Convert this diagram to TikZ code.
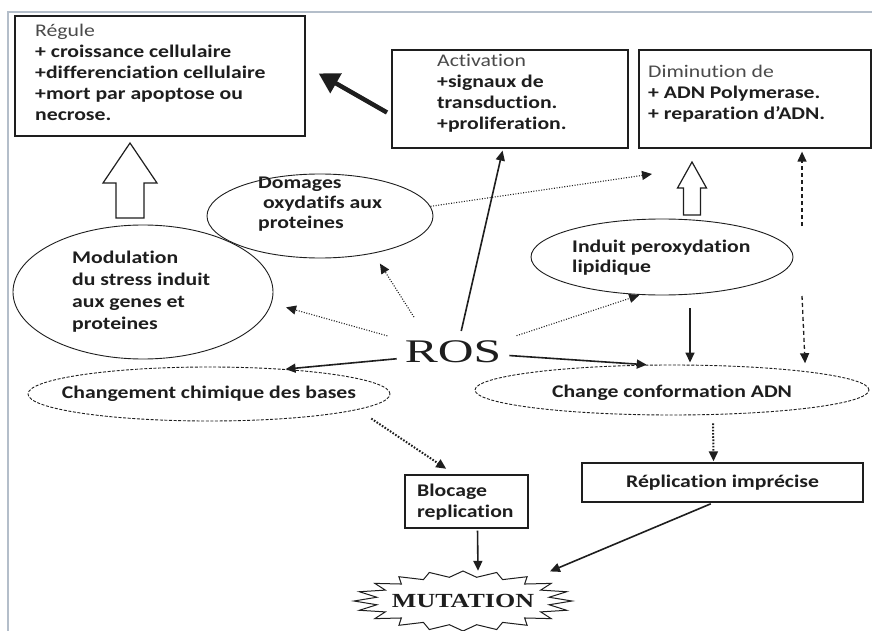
\documentclass[tikz,border=0pt]{standalone}
\usepackage{fontspec}
\setmainfont{Carlito}[FakeStretch=1.22, RawFeature={-liga}]
\newfontfamily\rosfont{Liberation Serif}[FakeStretch=1.5]
\newfontfamily\mutfont{Liberation Serif}[FakeStretch=1.3]
\usetikzlibrary{shapes.geometric,arrows.meta,calc}
\definecolor{ink}{HTML}{1E1E1E}
\definecolor{gr}{HTML}{4A4A4A}
\definecolor{framec}{HTML}{B4BECA}
\begin{document}
\begin{tikzpicture}[x=1pt,y=-1pt,
  box/.style={draw=ink, line width=1.3pt, inner sep=0pt, rectangle},
  ell/.style={draw=ink, ellipse, line width=0.9pt, inner sep=0pt},
  dell/.style={ell, dash pattern=on 3pt off 1.6pt},
  txt/.style={align=left, anchor=north west, inner sep=0pt, text=ink, font=\fontsize{17.8}{21}\selectfont\bfseries},
  ctxt/.style={inner sep=0pt, text=ink, font=\fontsize{17.8}{21}\selectfont\bfseries},
  tip/.style={-{Triangle[length=10pt,width=9pt]}},
  sarr/.style={draw=ink, line width=1.6pt, tip},
  darr/.style={draw=ink, line width=1.1pt, dash pattern=on 1pt off 1.6pt, tip},
  tdarr/.style={draw=ink, line width=2pt, dash pattern=on 1.6pt off 1.6pt, tip},
  vdash/.style={draw=ink, line width=1.3pt, dash pattern=on 4pt off 3pt, tip},
  hollow/.style={draw=ink, line width=1.2pt, fill=white, line join=miter}
]
\useasboundingbox (0,0) rectangle (872,631);
\fill[white] (0,0) rectangle (872,631);
\draw[framec, line width=1.5pt] (8,631) -- (8,12) -- (872,12);

% boxes
\node[box, minimum width=290pt, minimum height=120pt] (reg) at (160,76) {};
\node[box, minimum width=236pt, minimum height=98pt] (act) at (510,99) {};
\node[box, minimum width=232pt, minimum height=98pt] (dim) at (755,99) {};
\node[box, minimum width=281pt, minimum height=39pt] (rep) at (722.5,482.5) {};
\node[box, minimum width=123pt, minimum height=53pt] (blo) at (466.5,501.5) {};

\node[txt] (regt) at (35,24) {{\mdseries\color{gr}Régule}\\+ croissance cellulaire\\+differenciation cellulaire\\+mort par apoptose ou\\necrose.};
\node[txt] (actt) at (437,54) {{\mdseries\color{gr}Activation}\\+signaux de\\transduction.\\+proliferation.};
\node[txt] (dimt) at (648,65) {{\mdseries\color{gr}Diminution de}\\+ ADN Polymerase.\\+ reparation d'ADN.};
\node[ctxt] (rept) at (rep.center) {Réplication imprécise};
\node[txt] (blot) at (417,484) {Blocage\\replication};

% ellipses
\node[ell, minimum width=226pt, minimum height=84pt] (dom) at (320,216) {};
\node[ell, minimum width=260pt, minimum height=134pt] (mod) at (143,292) {};
\node[dell, minimum width=362pt, minimum height=54pt] (chg) at (209,394) {};
\node[ell, minimum width=262pt, minimum height=76pt] (ind) at (662,257) {};
\node[dell, minimum width=394pt, minimum height=50pt] (conf) at (672,390) {};

\node[txt, font=\fontsize{17.8}{20}\selectfont\bfseries] (domt) at (258,177) {Domages\\\ oxydatifs aux\\proteines};
\node[txt, font=\fontsize{17.8}{22}\selectfont\bfseries] (modt) at (72,251) {Modulation\\du stress induit\\aux genes et\\proteines};
\node[ctxt] (chgt) at (chg.center) {Changement chimique des bases};
\node[txt, font=\fontsize{17.8}{20}\selectfont\bfseries] (indt) at (572,240) {Induit peroxydation\\lipidique};
\node[ctxt] (conft) at (672,393) {Change conformation ADN};

% ROS and MUTATION
\node[inner sep=0pt, text=ink, font=\rosfont\fontsize{33}{33}\selectfont] (ros) at (453,352) {ROS};
\node[inner sep=0pt, minimum height=58pt, text=ink, font=\mutfont\bfseries\fontsize{20}{20}\selectfont] (mut) at (463,601) {MUTATION};
\draw[draw=ink, line width=1pt, line join=miter, shift={(mut.center)}]
  plot[samples=41, domain=0:360, variable=\t]
  ({109*(1-0.2*mod(round(\t/9),2))*cos(\t)}, {30*(1-0.2*mod(round(\t/9),2))*sin(\t)}) -- cycle;

% hollow arrows
\coordinate (h1) at (130,143);
\draw[hollow] (h1) -- ++(27,40) -- ++(-13,0) -- ++(0,35) -- ++(-28,0) -- ++(0,-35) -- ++(-13,0) -- cycle;
\coordinate (h2) at (692,162);
\draw[hollow] (h2) -- ++(14.5,26) -- ++(-6,0) -- ++(0,27) -- ++(-17,0) -- ++(0,-27) -- ++(-6,0) -- cycle;

% thick arrow
\draw[draw=ink, line width=4.5pt, -{Triangle[length=20pt,width=22pt]}, shorten <=5pt, shorten >=15pt]
  ([yshift=-16pt]act.west) -- ([yshift=10pt]reg.east);

% ROS connectors
\draw[sarr, shorten <=10pt, shorten >=2pt] ([xshift=6pt]ros.north) -- ([xshift=-7pt]act.south);
\draw[darr, shorten <=28pt, shorten >=12pt] ([xshift=-24pt]ros.north) -- (dom.-35);
\draw[darr, shorten <=18pt, shorten >=15pt] (ros.north west) -- (mod.-5);
\draw[sarr, shorten <=8pt] ([yshift=-6pt]ros.west) -- (chg.18);
\draw[darr, shorten <=16pt, shorten >=1pt] (ros.north east) -- (ind.-120);
\draw[sarr, shorten <=8pt] ([yshift=-3pt]ros.east) -- (conf.135);

% other connectors
\coordinate (d1) at (652,174);
\draw[darr] (dom.5) -- (d1);
\draw[sarr, shorten <=13pt, shorten >=2pt] ([xshift=28pt]ind.south) -- ([xshift=18pt]conf.north);
\coordinate (u1) at (802,226);
\draw[vdash, shorten >=3pt] (u1) -- ([xshift=47pt]dim.south);
\coordinate (u2) at (802,296);
\draw[vdash, shorten >=8pt] (u2) -- (conf.8);
\draw[tdarr, shorten <=8pt, shorten >=1pt] ([xshift=41pt]conf.south) -- ([xshift=-9pt]rep.north);
\draw[tdarr, shorten <=16pt, shorten >=10pt] (chg.-6) -- ([xshift=-12pt]blo.north);
\draw[sarr, shorten <=2pt, shorten >=1pt] ([xshift=11pt]blo.south) -- ([xshift=15pt]mut.north);
\draw[sarr, shorten <=3pt, shorten >=1pt] ([xshift=-9pt]rep.south) -- ([xshift=86pt]mut.north);
\end{tikzpicture}
\end{document}
